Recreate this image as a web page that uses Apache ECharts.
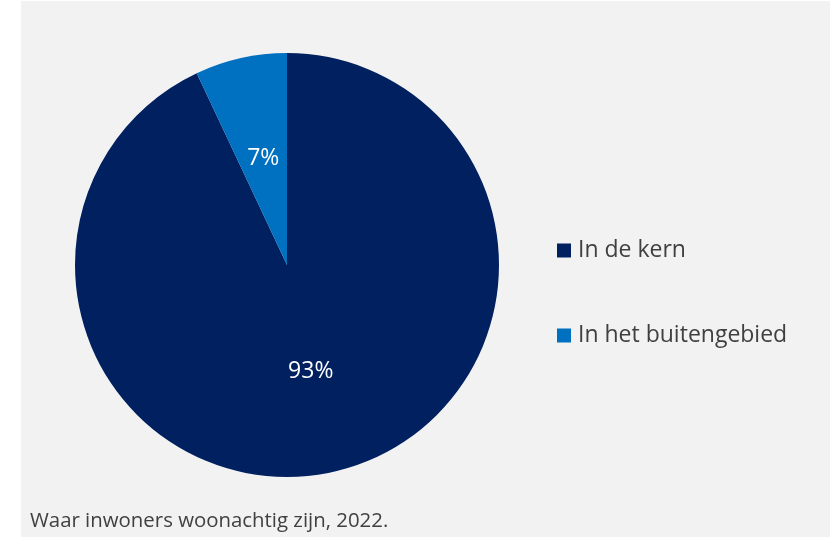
<!DOCTYPE html>
<html>
<head>
<meta charset="utf-8">
<script src="https://cdn.jsdelivr.net/npm/echarts@6/dist/echarts.min.js"></script>
<style>
html,body{margin:0;padding:0;background:#ffffff;}
#chart{width:836px;height:537px;}
</style>
</head>
<body>
<div id="chart"></div>
<script>
const categories = ['In de kern', 'In het buitengebied'];
const values = [93, 7];
const colors = ['#002060', '#0070c0'];
const caption = 'Waar inwoners woonachtig zijn, 2022.';

const chart = echarts.init(document.getElementById('chart'), null, {renderer: 'canvas'});
const fontFamily = '"Open Sans", "Liberation Sans", sans-serif';
chart.setOption({
  backgroundColor: '#ffffff',
  animation: false,
  graphic: [
    {type: 'rect', left: 21, top: 1, z: -10, silent: true,
     shape: {width: 809, height: 536}, style: {fill: '#f2f2f2'}},
    {type: 'text', left: 30, top: 511, z: 10,
     style: {text: caption, fill: '#404040', font: '20.4px ' + fontFamily}}
  ],
  legend: {
    orient: 'vertical',
    left: 552,
    top: 234,
    itemWidth: 14,
    itemHeight: 14,
    itemGap: 62,
    icon: 'rect',
    textStyle: {color: '#404040', fontSize: 23, fontFamily: fontFamily, padding: [0,0,0,2]},
    data: categories
  },
  series: [{
    type: 'pie',
    center: [287, 265],
    radius: [0, 212],
    startAngle: 90,
    clockwise: true,
    label: {
      show: true,
      position: 'inside',
      formatter: '{d}%',
      color: '#ffffff',
      fontSize: 23,
      fontFamily: fontFamily
    },
    labelLine: {show: false},
    itemStyle: {borderWidth: 0},
    emphasis: {disabled: true},
    data: categories.map((c, i) => ({name: c, value: values[i], itemStyle: {color: colors[i]}}))
  }]
});
</script>
</body>
</html>
